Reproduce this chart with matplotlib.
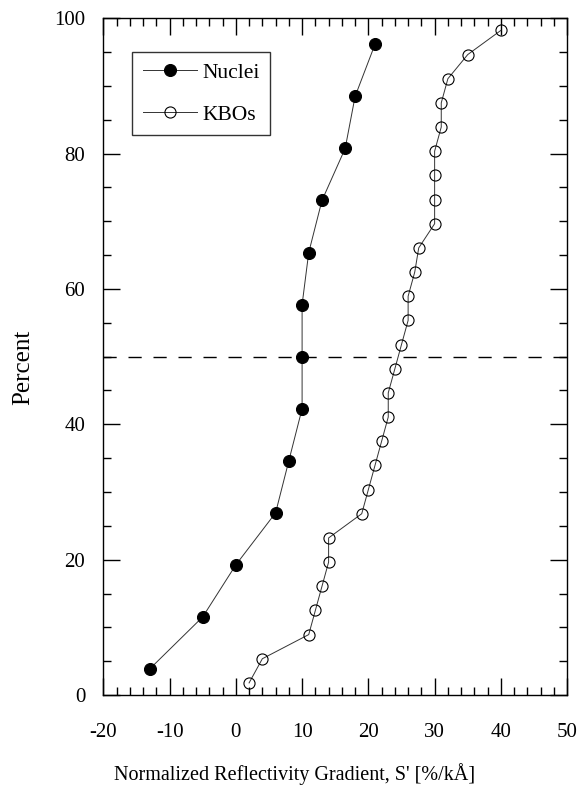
import matplotlib
matplotlib.use("Agg")
import matplotlib.pyplot as plt
import numpy as np
from matplotlib.ticker import MultipleLocator

plt.rcParams['font.family'] = ['Liberation Serif', 'DejaVu Serif']
plt.rcParams['axes.unicode_minus'] = False

# Data
nuclei_x = [-13, -5, 0, 6, 8, 10, 10, 10, 11, 13, 16.5, 18, 21]
nuclei_pct = [3.85, 11.54, 19.23, 26.92, 34.62, 42.31, 50.0, 57.69, 65.38, 73.08, 80.77, 88.46, 96.15]
kbo_x = [2, 4, 11, 12, 13, 14, 14, 19, 20, 21, 22, 23, 23, 24, 25, 26, 26, 27, 27.6,
         30, 30, 30, 30, 31, 31, 32, 35, 40]
kbo_pct = [1.79, 5.36, 8.93, 12.50, 16.07, 19.64, 23.21, 26.79, 30.36, 33.93, 37.50,
           41.07, 44.64, 48.21, 51.79, 55.36, 58.93, 62.50, 66.07, 69.64, 73.21,
           76.79, 80.36, 83.93, 87.50, 91.07, 94.64, 98.21]
median_pct = 50
x_label = "Normalized Reflectivity Gradient, S' [%/kÅ]"
y_label = "Percent"

fig = plt.figure(figsize=(5.82, 7.88), dpi=100)
ax = fig.add_axes([0.1775, 0.118, 0.797, 0.8588])

ax.plot(nuclei_x, nuclei_pct, '-', color='#333333', lw=0.7, marker='o', ms=8.6,
        mfc='black', mec='black', mew=0.8, label='Nuclei', zorder=3)
ax.plot(kbo_x, kbo_pct, '-', color='#333333', lw=0.7, marker='o', ms=8.0,
        mfc='none', mec='black', mew=0.8, label='KBOs', zorder=3)
ax.axhline(median_pct, color='black', lw=1.0, dashes=(9.5, 8.5), zorder=2)

ax.set_xlim(-20, 50)
ax.set_ylim(0, 100)
ax.xaxis.set_major_locator(MultipleLocator(10))
ax.xaxis.set_minor_locator(MultipleLocator(2))
ax.yaxis.set_major_locator(MultipleLocator(20))
ax.yaxis.set_minor_locator(MultipleLocator(5))
ax.tick_params(which='both', direction='in', top=True, right=True, width=1.0)
ax.tick_params(which='major', length=12)
ax.tick_params(which='minor', length=6)
ax.tick_params(axis='x', which='major', pad=20, labelsize=15)
ax.tick_params(axis='y', which='major', pad=13, labelsize=15)
for s in ax.spines.values():
    s.set_linewidth(1.0)

ax.set_xlabel(x_label, fontsize=14.5)
ax.set_ylabel(y_label, fontsize=18)
ax.xaxis.set_label_coords(0.413, -0.1005)
ax.yaxis.set_label_coords(-0.148, 0.484)

leg = ax.legend(loc='upper left', bbox_to_anchor=(0.0625, 0.95), borderaxespad=0,
                fontsize=15.5, numpoints=1, handlelength=2.5, handletextpad=0.25,
                labelspacing=1.0, borderpad=0.5, fancybox=False, frameon=True)
leg.get_frame().set_edgecolor('black')
leg.get_frame().set_linewidth(1.0)

fig.savefig('out.png', dpi=100)
